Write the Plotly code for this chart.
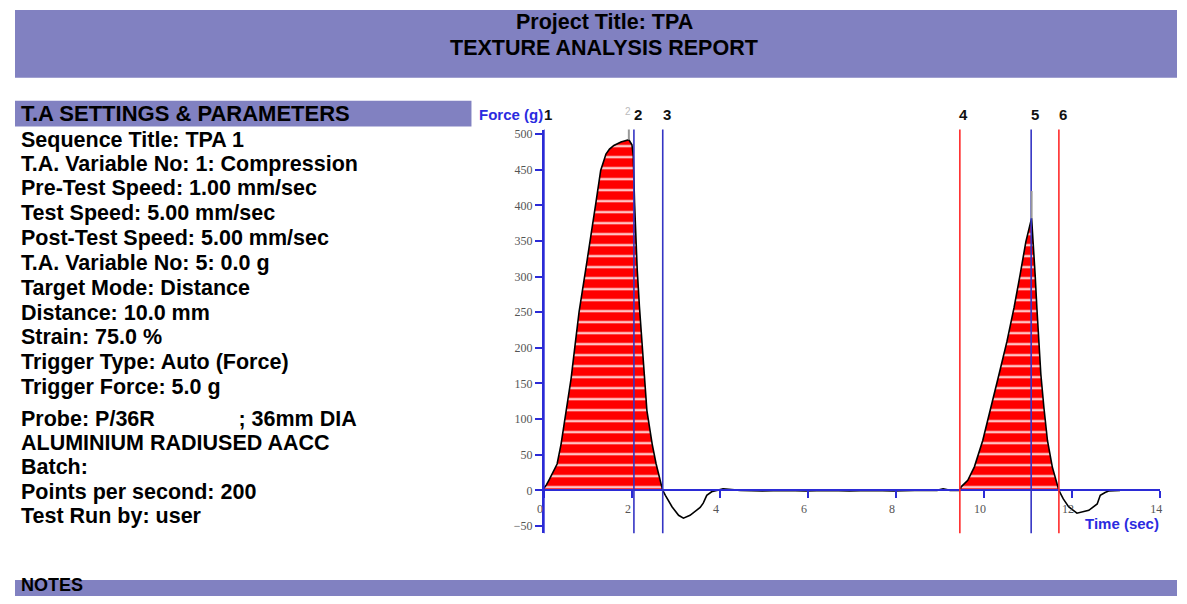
import plotly.graph_objects as go

# page: body has an 8px margin, so the figure is 16px smaller than the window
FIG_W, FIG_H = 1171, 588
OFF = 8

# ---------------- data ----------------
time_s = [0.0, 0.06, 0.13, 0.22, 0.30, 0.39, 0.51, 0.62, 0.71, 0.80, 0.95, 1.07, 1.18, 1.29,
          1.35, 1.41, 1.49, 1.59, 1.75, 1.93, 2.00, 2.03, 2.06, 2.09, 2.12, 2.17, 2.23, 2.28,
          2.34, 2.46, 2.55, 2.67, 2.70, 2.76, 2.91, 3.06, 3.17, 3.32, 3.43, 3.55, 3.62, 3.67,
          3.70, 3.81, 3.97, 4.07, 4.46, 4.96, 5.46, 5.95, 6.45, 6.94, 7.44, 7.94, 8.43, 8.93,
          9.07, 9.23, 9.45, 9.48, 9.63, 9.78, 9.97, 10.16, 10.34, 10.52, 10.68, 10.82, 10.95,
          11.08, 11.12, 11.16, 11.20, 11.24, 11.29, 11.36, 11.44, 11.55, 11.67, 11.70, 11.80,
          11.92, 12.11, 12.25, 12.38, 12.57, 12.64, 12.75, 12.83, 13.09]
force_g = [3, 8, 16, 26, 37, 65, 112, 158, 205, 251, 310, 356, 403, 449,
           462, 472, 479, 484, 489, 492, 485, 470, 403, 356, 310, 258, 205, 158,
           112, 65, 37, 7, 0, -7, -23, -35, -39, -35, -30, -24, -18, -10,
           -7, -2, 0, 2, 0, -1, 0, -1, 0, -1, 0, -1, 0, 0,
           2, 0, 0, 5, 14, 33, 70, 116, 163, 209, 256, 303, 349,
           382, 349, 303, 256, 209, 163, 116, 70, 33, 5, 0, -12,
           -23, -32, -30, -28, -19, -7, -3, -1, 0]

marker_labels = ["1", "2", "3", "4", "5", "6"]
marker_times = [0.0, 2.045, 2.70, 9.45, 11.07, 11.70]
marker_colors = ["#2B2BD6", "#3434C4", "#3434C4", "#FF2A2A", "#3434C4", "#FF2A2A"]
fill_ranges = [(0.0, 2.70), (9.45, 11.70)]
anchor_ticks = [(1.93, 492, 512), (11.08, 382, 420)]  # grey peak markers (time, from, to)

x_ticks = [0, 2, 4, 6, 8, 10, 12, 14]
y_ticks = [-50, 0, 50, 100, 150, 200, 250, 300, 350, 400, 450, 500]

settings_lines = [
    "Sequence Title: TPA 1",
    "T.A. Variable No: 1: Compression",
    "Pre-Test Speed: 1.00 mm/sec",
    "Test Speed: 5.00 mm/sec",
    "Post-Test Speed: 5.00 mm/sec",
    "T.A. Variable No: 5: 0.0 g",
    "Target Mode: Distance",
    "Distance: 10.0 mm",
    "Strain: 75.0 %",
    "Trigger Type: Auto (Force)",
    "Trigger Force: 5.0 g",
    "Probe: P/36R              ; 36mm DIA",
    "ALUMINIUM RADIUSED AACC",
    "Batch:",
    "Points per second: 200",
    "Test Run by: user",
]
settings_y = [138, 163, 187, 212, 237, 262, 287, 312, 336, 361, 386, 418, 442, 467, 492, 516]

# ---------------- helpers (window pixel -> paper) ----------------
def px(x):
    return min(1.0, max(0.0, (x - OFF) / FIG_W))

def py(y):
    return min(1.0, max(0.0, 1 - (y - OFF) / FIG_H))

BAND = "#8181C1"
AXIS_BLUE = "#2B2BD6"
SANS = "Liberation Sans, Arial, sans-serif"
SERIF = "Liberation Serif, Times New Roman, serif"
TXT = 21.5

fig = go.Figure()

for (a, b) in fill_ranges:
    xs = [t for t in time_s if a <= t <= b]
    ys = [f for t, f in zip(time_s, force_g) if a <= t <= b]
    fig.add_trace(go.Scatter(
        x=xs, y=ys, mode="lines", line=dict(width=0, color="red"),
        fill="tozeroy", fillcolor="red",
        fillpattern=dict(shape="-", bgcolor="#FF0000", fgcolor="white",
                         size=11, solidity=0.17, fillmode="replace"),
        hoverinfo="skip", showlegend=False))

fig.add_trace(go.Scatter(x=time_s, y=force_g, mode="lines",
                         line=dict(color="black", width=1.6),
                         showlegend=False))

shapes = []
shapes.append(dict(type="rect", xref="paper", yref="paper", x0=px(8), x1=px(1187),
                   y0=py(76), y1=py(8), fillcolor=BAND, line=dict(width=0), layer="below"))
shapes.append(dict(type="rect", xref="paper", yref="paper", x0=px(8), x1=px(468),
                   y0=py(125), y1=py(99), fillcolor=BAND, line=dict(width=0), layer="below"))
shapes.append(dict(type="rect", xref="paper", yref="paper", x0=px(8), x1=px(1187),
                   y0=py(604), y1=py(580), fillcolor=BAND, line=dict(width=0), layer="below"))
for t, c in zip(marker_times, marker_colors):
    shapes.append(dict(type="line", xref="x", yref="paper", x0=t, x1=t,
                       y0=py(533), y1=py(128), line=dict(color=c, width=1.6), layer="above"))
for t, f0, f1 in anchor_ticks:
    shapes.append(dict(type="line", xref="x", yref="y", x0=t, x1=t, y0=f0, y1=f1,
                       line=dict(color="#999999", width=2), layer="above"))

annotations = []
def add_text(text, x, y, size, color="black", xanchor="left", family=SANS):
    annotations.append(dict(text=text, xref="paper", yref="paper", x=px(x), y=py(y),
                            showarrow=False, xanchor=xanchor, yanchor="middle",
                            font=dict(family=family, size=size, color=color)))

add_text("<b>Project Title: TPA</b>", 602, 20, TXT, xanchor="center")
add_text("<b>TEXTURE ANALYSIS REPORT</b>", 602, 46, TXT, xanchor="center")
add_text("<b>T.A SETTINGS & PARAMETERS</b>", 12, 112, 22)
add_text("<b>NOTES</b>", 12, 585, 18)
for txt, yy in zip(settings_lines, settings_y):
    add_text("<b>" + txt.replace("  ", "&nbsp; ") + "</b>", 12, yy, TXT)
add_text("<b>Force (g)</b>", 542, 113, 15, color="#2B2BE0", xanchor="right")
add_text("<b>Time (sec)</b>", 1163, 523, 15, color="#2B2BE0", xanchor="right")
add_text("2", 626, 110, 10, color="#BBBBBB", xanchor="center")
for lab, t in zip(marker_labels, marker_times):
    annotations.append(dict(text="<b>" + lab + "</b>", xref="x", yref="paper",
                            x=t, y=py(113), xshift=4, showarrow=False, xanchor="center",
                            yanchor="middle", font=dict(family=SANS, size=15, color="#111111")))

y_top, y_bot = 128, 533
f_top = (490 - y_top) / 0.715
f_bot = (490 - y_bot) / 0.715

fig.update_layout(
    width=FIG_W, height=FIG_H, margin=dict(l=0, r=0, t=0, b=0),
    paper_bgcolor="white", plot_bgcolor="rgba(0,0,0,0)",
    shapes=shapes, annotations=annotations, showlegend=False,
    xaxis=dict(domain=[px(541), px(1162)], range=[0, 14], anchor="free", position=py(490),
               showgrid=False, zeroline=False, showline=True, linecolor=AXIS_BLUE, linewidth=2,
               tickvals=x_ticks, ticks="outside", tickcolor=AXIS_BLUE, ticklen=7, tickwidth=2,
               ticklabelshift=-4,
               tickfont=dict(family=SERIF, size=12, color="#555555")),
    yaxis=dict(domain=[py(y_bot), py(y_top)], range=[f_bot, f_top],
               showgrid=False, zeroline=False, showline=True, linecolor=AXIS_BLUE, linewidth=2,
               tickvals=y_ticks, ticks="outside", tickcolor=AXIS_BLUE, ticklen=7, tickwidth=2,
               tickfont=dict(family=SERIF, size=12, color="#555555")),
)

fig.write_html("out.html")
